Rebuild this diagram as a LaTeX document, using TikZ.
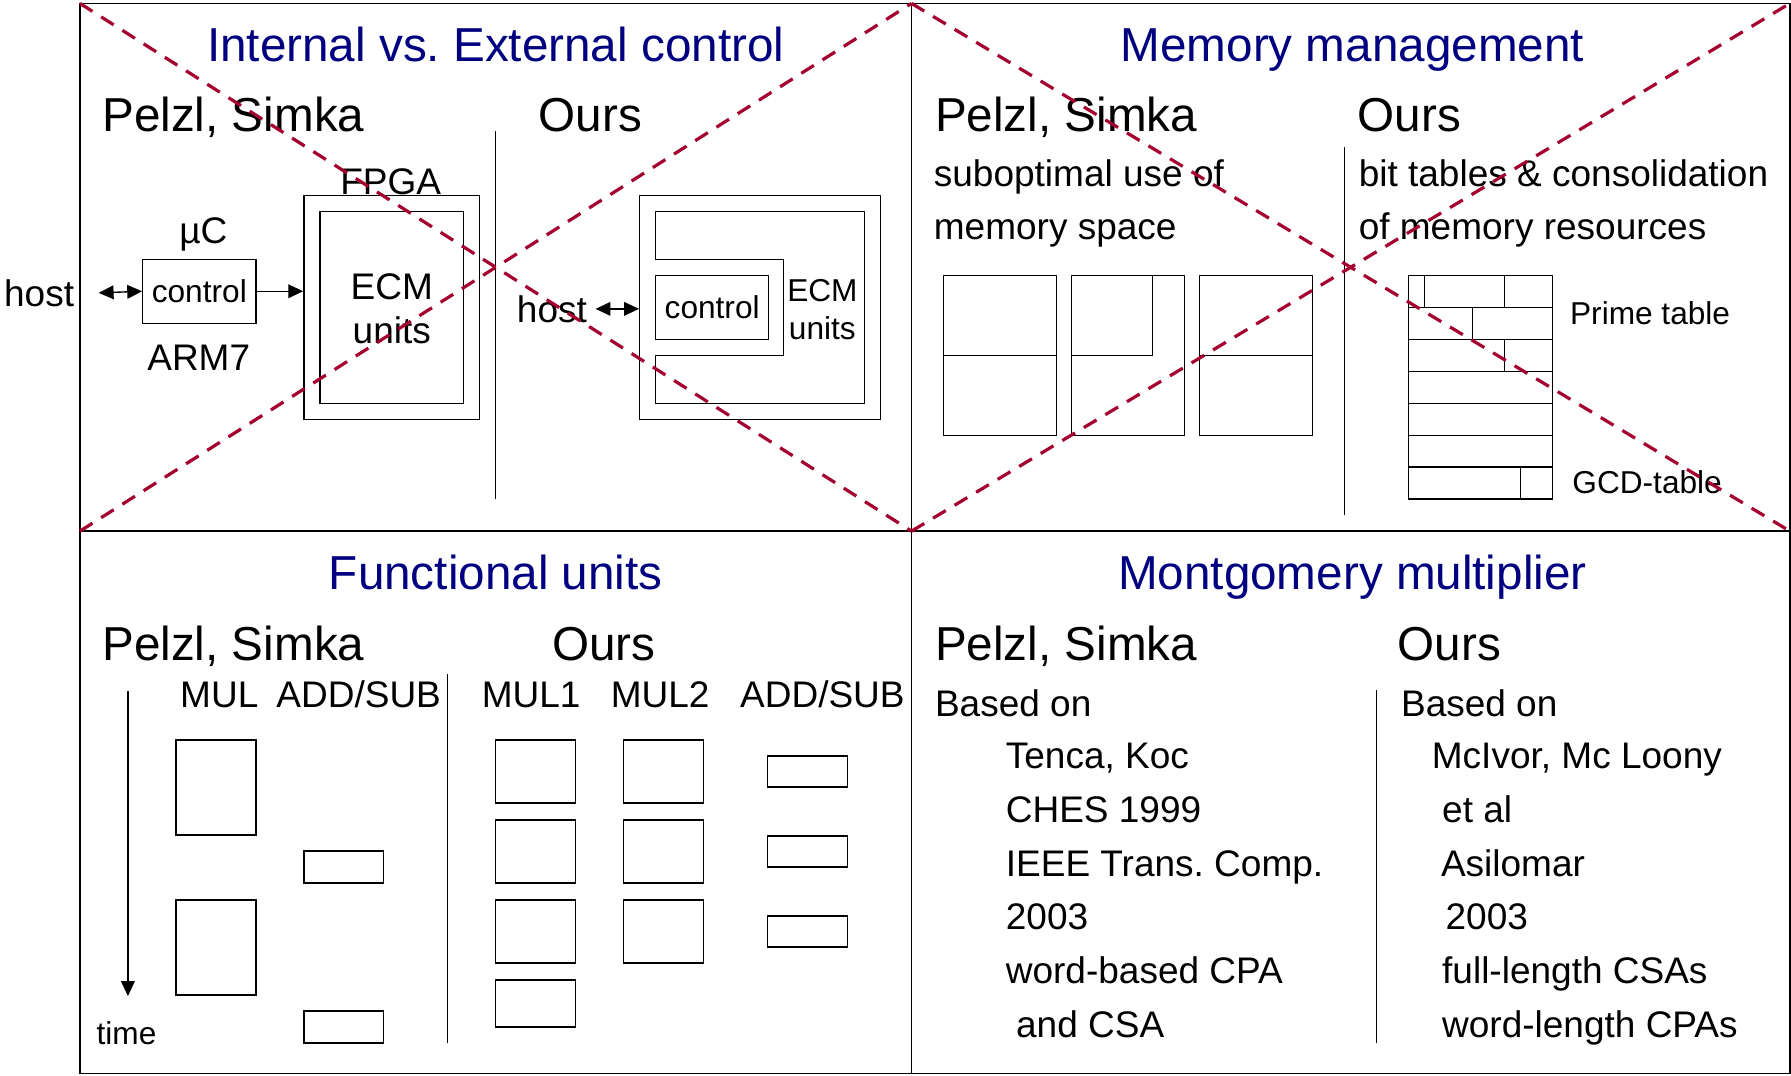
\documentclass[tikz,border=0pt]{standalone}
\usepackage{fontspec}
\setmainfont{Liberation Sans}
\usetikzlibrary{arrows.meta}
\definecolor{slidenavy}{RGB}{0,0,128}
\definecolor{crossred}{RGB}{165,0,45}
\frenchspacing

\begin{document}
\begin{tikzpicture}[x=1pt,y=-1pt,line width=1.2pt,
   tip/.style={-{Triangle[length=13pt,width=12pt]}},
   dtip/.style={{Triangle[length=13pt,width=12pt]}-{Triangle[length=13pt,width=12pt]}},
   every node/.style={inner sep=0pt},
   big/.style={font=\fontsize{41.7}{50}\selectfont},
   mid/.style={font=\fontsize{32.4}{39}\selectfont},
   sml/.style={font=\fontsize{27.7}{33}\selectfont},
   ttl/.style={big,text=slidenavy,anchor=base},
   lft/.style={anchor=base west},
   bx/.style={draw,line width=1.2pt},
   cross/.style={crossred,line width=2.8pt,dash pattern=on 13pt off 9pt}]

   \useasboundingbox (0,0) rectangle (1568,942);

   % frame
   \draw[line width=1.4pt] (70,3) rectangle (1567,940);
   \draw[line width=1.4pt] (798,3) -- (798,940);
   \draw[line width=1.4pt] (70,465) -- (1567,465);

   % internal vs. external control
   \node[ttl] (t1) at (434,54) {Internal vs. External control};
   \node[big,lft] (ps1) at (89,115) {Pelzl, Simka};
   \node[big,lft] (ours1) at (471,115) {Ours};
   \draw[line width=1pt] (434,115) -- (434,437);

   \node[mid,anchor=base] (fpgalbl) at (342,170) {FPGA};
   \node[mid,anchor=base] (uc) at (178,213) {µC};
   \node[mid,lft] (host1) at (3,268) {host};
   \node[bx,sml,minimum width=99pt,minimum height=56pt] (ctl1) at (174.5,255) {control};
   \node[mid,anchor=base] (arm) at (174,324) {ARM7};
   \node[bx,minimum width=154pt,minimum height=196pt] (fpga) at (343,269) {};
   \node[bx,minimum width=126pt,minimum height=168pt] (ecm1) at (343,269) {};
   \node[mid,anchor=base] (ecm1a) at (343,262) {ECM};
   \node[mid,anchor=base] (ecm1b) at (343,301) {units};
   \draw[dtip] ([xshift=21pt]host1.east) -- (ctl1.west);
   \draw[tip] (ctl1.east) -- (ctl1.east -| fpga.west);

   \node[mid,lft] (host2) at (452,282) {host};
   \node[bx,minimum width=211pt,minimum height=196pt] (chip) at (665.5,269) {};
   \draw (574,185) -- (757,185) -- (757,353) -- (574,353) -- (574,311)
      -- (686,311) -- (686,227) -- (574,227) -- cycle;
   \node[bx,sml,minimum width=99pt,minimum height=56pt] (ctl2) at (623.5,269) {control};
   \node[sml,anchor=base] (ecm2a) at (720,264) {ECM};
   \node[sml,anchor=base] (ecm2b) at (720,297) {units};
   \draw[dtip] ([xshift=7pt]host2.east) -- (host2.east -| chip.west);

   % memory management
   \node[ttl] (t2) at (1184,54) {Memory management};
   \node[big,lft] (ps2) at (818,115) {Pelzl, Simka};
   \node[big,lft] (ours2) at (1188,115) {Ours};
   \draw[line width=1pt] (1177,129) -- (1177,451);
   \node[mid,lft] (sub1) at (817,163) {suboptimal use of};
   \node[mid,lft] (sub2) at (817,210) {memory space};
   \node[mid,lft] (bit1) at (1189,163) {bit tables \& consolidation};
   \node[mid,lft] (bit2) at (1189,210) {of memory resources};

   \draw (826,241) rectangle (925,381);
   \draw (826,311) -- (925,311);
   \draw (938,241) rectangle (1037,381);
   \draw (938,311) -- (1009,311) -- (1009,241);
   \draw (1050,241) rectangle (1149,381);
   \draw (1050,311) -- (1149,311);

   \draw (1233,241) rectangle (1359,437);
   \foreach \y in {269,297,...,409}
      \draw (1233,\y) -- (1359,\y);
   \draw (1247,241) -- (1247,269);
   \draw (1317,241) -- (1317,269);
   \draw (1289,269) -- (1289,297);
   \draw (1317,297) -- (1317,325);
   \draw (1331,409) -- (1331,437);
   \node[sml,lft] (prime) at (1374,284) {Prime table};
   \node[sml,lft] (gcd) at (1376,432) {GCD-table};

   % functional units
   \node[ttl] (t3) at (434,516) {Functional units};
   \node[big,lft] (ps3) at (89,578) {Pelzl, Simka};
   \node[big,lft] (ours3) at (483,578) {Ours};
   \draw[line width=1pt] (392,590) -- (392,913);
   \node[mid,anchor=base] (mul) at (192,619) {MUL};
   \node[mid,anchor=base] (add1) at (314,619) {ADD/SUB};
   \node[mid,anchor=base] (mula) at (465,619) {MUL1};
   \node[mid,anchor=base] (mulb) at (578,619) {MUL2};
   \node[mid,anchor=base] (add2) at (720,619) {ADD/SUB};

   \coordinate (tstart) at (112,605);
   \coordinate (tend) at (112,872);
   \draw[tip] (tstart) -- (tend);
   \node[sml,lft] (time) at (84,914) {time};

   \draw (154,648) rectangle (224,731);
   \draw (154,788) rectangle (224,871);
   \draw (266,745) rectangle (336,773);
   \draw (266,885) rectangle (336,913);

   \foreach \y in {648,718,788}
      \draw (434,\y) rectangle ++(70,55);
   \draw (434,858) rectangle ++(70,41);
   \foreach \y in {648,718,788}
      \draw (546,\y) rectangle ++(70,55);
   \foreach \y in {662,732,802}
      \draw (672,\y) rectangle ++(70,27);

   % montgomery multiplier
   \node[ttl] (t4) at (1184,516) {Montgomery multiplier};
   \node[big,lft] (ps4) at (818,578) {Pelzl, Simka};
   \node[big,lft] (ours4) at (1223,578) {Ours};
   \draw[line width=1pt] (1205,604) -- (1205,913);

   \node[mid,lft] (l0) at (818,627) {Based on};
   \node[mid,lft] (l1) at (880,673) {Tenca, Koc};
   \node[mid,lft] (l2) at (880,720) {CHES 1999};
   \node[mid,lft] (l3) at (880,767) {IEEE Trans. Comp.};
   \node[mid,lft] (l4) at (880,814) {2003};
   \node[mid,lft] (l5) at (880,861) {word-based CPA};
   \node[mid,lft] (l6) at (889,908) {and CSA};

   \node[mid,lft] (r0) at (1226,627) {Based on};
   \node[mid,lft] (r1) at (1253,673) {McIvor, Mc Loony};
   \node[mid,lft] (r2) at (1262,720) {et al};
   \node[mid,lft] (r3) at (1261,767) {Asilomar};
   \node[mid,lft] (r4) at (1265,814) {2003};
   \node[mid,lft] (r5) at (1262,861) {full-length CSAs};
   \node[mid,lft] (r6) at (1262,908) {word-length CPAs};

   % crossed out
   \draw[cross] (70,3) -- (798,465);
   \draw[cross] (70,465) -- (798,3);
   \draw[cross] (798,3) -- (1567,465);
   \draw[cross] (798,465) -- (1567,3);

\end{tikzpicture}
\end{document}
